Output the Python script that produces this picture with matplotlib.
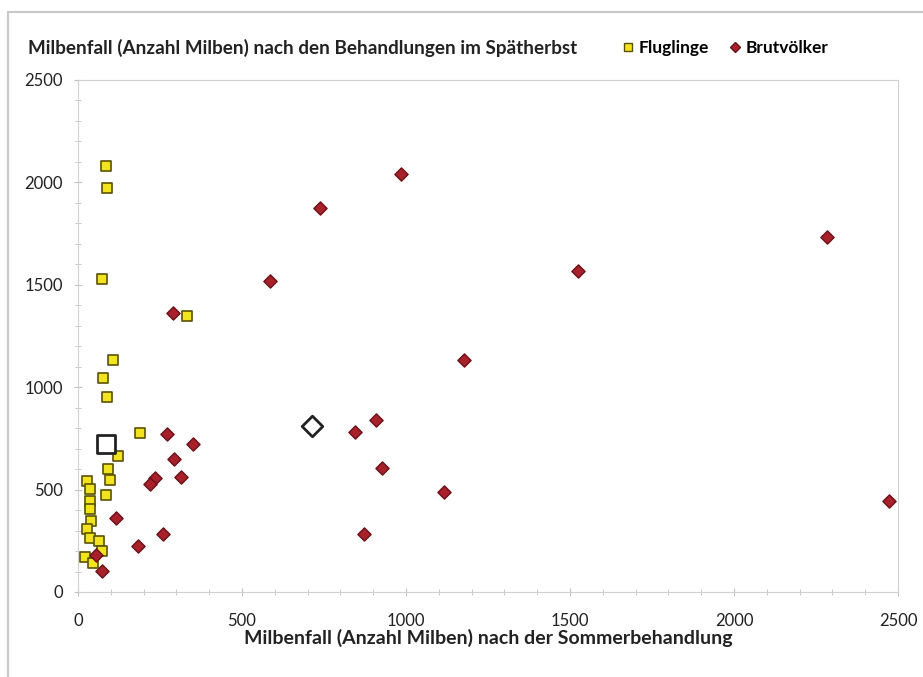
import matplotlib
matplotlib.use('Agg')
import matplotlib.pyplot as plt
from matplotlib.lines import Line2D
from matplotlib.patches import Rectangle
from matplotlib.ticker import MultipleLocator

plt.rcParams['font.family'] = ['Lato', 'DejaVu Sans']

# Fluglinge (x: nach Sommerbehandlung, y: nach Spätherbst)
flug_x = [85, 88, 73, 333, 107, 76, 88, 189, 122, 92, 98, 27, 37, 85, 37, 37, 40, 27, 37, 64, 73, 21, 46]
flug_y = [2079, 1972, 1526, 1350, 1135, 1047, 954, 778, 665, 602, 548, 543, 504, 474, 445, 406, 347, 308, 264, 249, 200, 171, 142]

# Brutvölker
brut_x = [986, 739, 586, 1523, 2283, 1178, 290, 910, 843, 928, 1117, 873, 2473,
          272, 351, 293, 314, 235, 220, 116, 259, 183, 55, 73]
brut_y = [2040, 1874, 1517, 1566, 1732, 1135, 1360, 841, 783, 607, 489, 284, 445,
          773, 724, 651, 563, 558, 528, 362, 284, 225, 181, 103]

# Mittelwerte
flug_mean = (85, 724)
brut_mean = (714, 812)

fig = plt.figure(figsize=(9.23, 6.77), dpi=100)
fig.patches.append(Rectangle((8 / 923, -0.1), 1.2, 1 - 12 / 677 + 0.1,
                             transform=fig.transFigure, fill=False,
                             edgecolor='#c8c8c8', linewidth=1.5))

ax = fig.add_axes([78 / 923, 1 - 592 / 677, 820 / 923, 512 / 677])

ax.scatter(flug_x, flug_y, marker='s', s=55, facecolor='#f2e41c',
           edgecolor='#5a5200', linewidth=1.2, zorder=3)
ax.scatter(brut_x, brut_y, marker='D', s=45, facecolor='#a8202a',
           edgecolor='#6a1018', linewidth=1.0, zorder=3)
ax.scatter([flug_mean[0]], [flug_mean[1]], marker='s', s=170, facecolor='white',
           edgecolor='#222222', linewidth=2, zorder=4)
ax.scatter([brut_mean[0]], [brut_mean[1]], marker='D', s=110, facecolor='white',
           edgecolor='#222222', linewidth=2, zorder=4)

ax.set_xlim(0, 2500)
ax.set_ylim(0, 2500)
ax.xaxis.set_major_locator(MultipleLocator(500))
ax.yaxis.set_major_locator(MultipleLocator(500))
ax.xaxis.set_minor_locator(MultipleLocator(100))
ax.yaxis.set_minor_locator(MultipleLocator(100))
ax.tick_params(which='both', direction='inout', color='#c0c0c0', labelsize=12,
               labelcolor='#222222')
ax.tick_params(which='major', length=6)
ax.tick_params(which='minor', length=4)
ax.tick_params(axis='x', which='major', pad=12)
ax.tick_params(axis='y', which='major', pad=8)
for s in ax.spines.values():
    s.set_color('#d0d0d0')

ax.set_xlabel('Milbenfall (Anzahl Milben) nach der Sommerbehandlung',
              fontsize=14, fontweight='bold', color='#222222', labelpad=0)

fig.text(28 / 923, 1 - 48 / 677,
         'Milbenfall (Anzahl Milben) nach den Behandlungen im Spätherbst',
         fontsize=13.6, fontweight='bold', color='#222222', va='center')

handles = [Line2D([], [], marker='s', linestyle='none', markersize=6,
                  markerfacecolor='#f2e41c', markeredgecolor='#5a5200'),
           Line2D([], [], marker='D', linestyle='none', markersize=5,
                  markerfacecolor='#a8202a', markeredgecolor='#6a1018')]
fig.legend(handles, ['Fluglinge', 'Brutvölker'], ncol=2, frameon=False,
           loc='center left', bbox_to_anchor=(604 / 923, 1 - 48 / 677),
           prop={'weight': 'bold', 'size': 12.5}, handletextpad=0.1,
           columnspacing=1.0, handlelength=1.0)

fig.savefig('out.png', dpi=100)
